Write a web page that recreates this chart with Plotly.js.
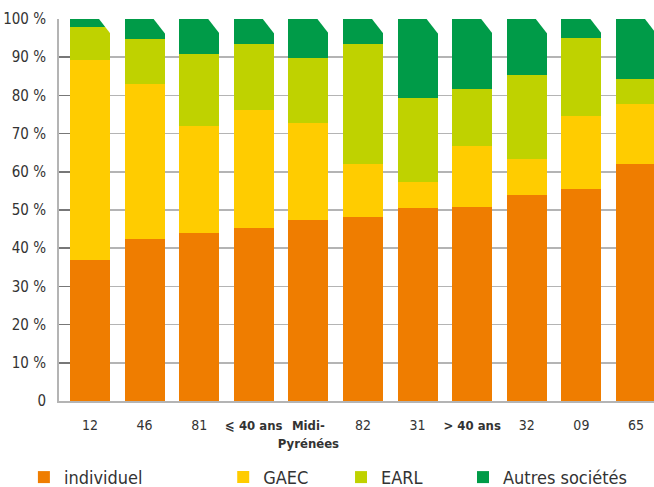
<!DOCTYPE html>
<html>
<head>
<meta charset="utf-8">
<script src="https://cdn.plot.ly/plotly-3.0.1.min.js"></script>
<style>html,body{margin:0;padding:0;background:#fff;}#chart{width:654px;height:487px;}</style>
</head>
<body>
<div id="chart"></div>
<script>
const categories = ["12", "46", "81", "<b><span style=\"font-size:13px\">⩽ 40 ans</span></b>", "<b><span style=\"font-size:13px\">Midi-</span><br><span style=\"font-size:13px\">Pyrénées</span></b>", "82", "31", "<b><span style=\"font-size:13px\">> 40 ans</span></b>", "32", "09", "65"];
const individuel = [36.8, 42.3, 43.9, 45.4, 47.3, 48.2, 50.4, 50.9, 53.8, 55.6, 62.1];
const gaec       = [52.5, 40.7, 28.0, 30.7, 25.5, 13.9,  7.0, 15.8,  9.6, 19.1, 15.7];
const earl       = [ 8.6, 11.8, 19.0, 17.4, 17.0, 31.4, 22.0, 15.0, 22.0, 20.3,  6.5];
const autres     = [ 2.1,  5.2,  9.1,  6.5, 10.2,  6.5, 20.6, 18.3, 14.6,  5.0, 15.7];
const seriesNames = ["individuel", "GAEC", "EARL", "Autres sociétés"];
const seriesColors = ["#EF7D00", "#FFCC00", "#BFD200", "#009B48"];
const yTickVals = [0, 10, 20, 30, 40, 50, 60, 70, 80, 90, 100];
const yTickText = ["0", "10 %", "20 %", "30 %", "40 %", "50 %", "60 %", "70 %", "80 %", "90 %", "100 %"];

const FONT = "DejaVu Sans Condensed, DejaVu Sans, sans-serif";
const idx = categories.map((_, i) => i);
const allSeries = [individuel, gaec, earl, autres];
const legendIds = ["legend", "legend2", "legend3", "legend4"];
const legendX = [-0.059, 0.276, 0.474, 0.679];

const traces = allSeries.map((vals, k) => ({
  type: "bar",
  x: idx,
  y: vals,
  name: seriesNames[k],
  marker: {color: seriesColors[k], line: {width: 0}},
  legend: legendIds[k],
  hoverinfo: "name+y"
}));

// chamfered top-right corner of each bar (white triangle)
const shapes = idx.map(i => ({
  type: "path",
  xref: "x", yref: "y",
  path: `M ${i + 0.165},100 L ${i + 0.40},100 L ${i + 0.40},95.65 Z`,
  fillcolor: "#ffffff",
  line: {width: 0},
  layer: "above"
}));

const legendBase = {
  orientation: "h",
  y: -0.2, yanchor: "middle",
  xanchor: "left",
  font: {family: FONT, size: 18, color: "#333"},
  bgcolor: "rgba(0,0,0,0)",
  itemclick: false
};

const layout = {
  width: 654, height: 487,
  margin: {l: 59, r: 0, t: 19, b: 86, autoexpand: false},
  paper_bgcolor: "#fff",
  plot_bgcolor: "#fff",
  barmode: "stack",
  bargap: 0.27,
  font: {family: FONT, color: "#333"},
  showlegend: true,
  legend:  Object.assign({}, legendBase, {x: legendX[0]}),
  legend2: Object.assign({}, legendBase, {x: legendX[1]}),
  legend3: Object.assign({}, legendBase, {x: legendX[2]}),
  legend4: Object.assign({}, legendBase, {x: legendX[3]}),
  xaxis: {
    type: "linear",
    range: [-0.568, 10.33],
    tickvals: idx,
    ticktext: categories,
    tickangle: 0,
    tickfont: {family: FONT, size: 14, color: "#333"},
    showgrid: false,
    zeroline: false,
    showline: true,
    linecolor: "#b4b4b4",
    linewidth: 2,
    ticks: "",
    ticklabelstandoff: 10,
    automargin: false,
    fixedrange: true
  },
  yaxis: {
    range: [0, 100],
    tickvals: yTickVals,
    ticktext: yTickText,
    tickfont: {family: FONT, size: 15, color: "#333"},
    showgrid: true,
    gridcolor: "#b4b4b4",
    gridwidth: 1.5,
    zeroline: false,
    showline: true,
    linecolor: "#b4b4b4",
    linewidth: 2,
    ticks: "inside",
    ticklen: 11,
    tickcolor: "#777",
    tickwidth: 1.5,
    ticklabelstandoff: 8,
    automargin: false,
    fixedrange: true
  },
  shapes: shapes
};

Plotly.newPlot("chart", traces, layout, {displayModeBar: false, staticPlot: true});
</script>
</body>
</html>
